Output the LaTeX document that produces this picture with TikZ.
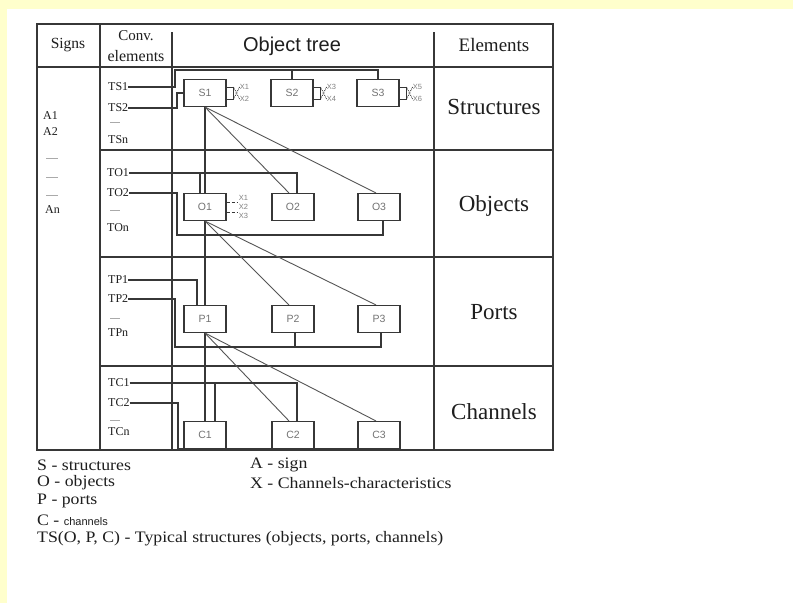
\documentclass[tikz,border=0pt]{standalone}
\usepackage{fontspec}
\setmainfont{Liberation Serif}
\newfontfamily\hsans{Liberation Sans}
\newfontfamily\legendfont[FakeStretch=1.11]{Liberation Serif}
\usetikzlibrary{calc}
\definecolor{pageyellow}{RGB}{255,255,204}
\definecolor{ink}{RGB}{30,30,30}
\definecolor{rule}{RGB}{55,55,55}
\definecolor{wirec}{RGB}{55,55,55}
\definecolor{faint}{RGB}{170,170,170}
\newcommand\fs[1]{\fontsize{#1}{#1}\selectfont}
% small "X" characteristic tags hanging off the right side of a box
\newcommand\xtags[3]{%
  \draw[xw] ($(#1.east)+(0,-6)$) -- ++(7,0) -- ++(0,12) -- ++(-7,0);
  \draw[xw, densely dotted] ($(#1.east)+(7,-6)$) -- ++(6,12);
  \draw[xw, densely dotted] ($(#1.east)+(7,6)$) -- ++(6,-12);
  \node[xl] (#1xa) at ($(#1.east)+(13,-6)$) {#2};
  \node[xl] (#1xb) at ($(#1.east)+(13,6)$) {#3};
}
\begin{document}
\begin{tikzpicture}[x=1pt,y=-1pt,
  frame/.style={draw=rule, line width=2pt},
  rowline/.style={draw=rule, line width=1.4pt},
  colline/.style={draw=rule, line width=1.2pt},
  wire/.style={draw=wirec, line width=1.2pt},
  diag/.style={draw=wirec!85, line width=0.9pt},
  tbox/.style={draw=wirec, fill=white, line width=1.1pt, minimum width=42pt,
    minimum height=27pt, inner sep=0pt, font=\hsans\fs{10.5}, text=black!55},
  tl/.style={font=\fs{12}, text=ink, inner sep=0pt, anchor=west},
  head/.style={text=ink, inner sep=0pt},
  elem/.style={font=\fs{23}, text=ink, inner sep=0pt},
  legend/.style={font=\legendfont\fs{16}, text=ink, inner sep=0pt, anchor=west},
  xl/.style={font=\hsans\fs{7.5}, text=black!50, inner sep=0pt, anchor=west},
  xw/.style={draw=wirec, line width=0.8pt},
  gap/.style={draw=faint, line width=0.8pt},
]
% page
\fill[pageyellow] (0,0) rectangle (793,603);
\fill[white] (7,9) rectangle (793,603);
\useasboundingbox (0,0) rectangle (793,603);

% table grid
\draw[colline] (100,24) -- (100,450);
\draw[colline] (172,32) -- (172,450);
\draw[colline] (434,32) -- (434,450);
\draw[rowline] (100,150) -- (553,150);
\draw[rowline] (100,257) -- (553,257);
\draw[rowline] (100,366) -- (553,366);
\draw[frame] (37,67) -- (553,67);
\draw[frame] (37,24) rectangle (553,450);

% headers
\node[head, font=\fs{15.5}] (hSigns) at (68,45) {Signs};
\node[head, font=\fs{15}] (hConvA) at (136,36) {Conv.};
\node[head, font=\fs{16}] (hConvB) at (136,56) {elements};
\node[head, font=\hsans\fs{20}] (hTree) at (292,46) {Object tree};
\node[head, font=\fs{19}] (hElem) at (494,45) {Elements};

% element names
\node[elem] (eS) at (494,107) {Structures};
\node[elem] (eO) at (494,206) {Objects};
\node[elem] (eP) at (494,312) {Ports};
\node[elem] (eC) at (494,412) {Channels};

% signs
\node[tl] (A1) at (43,116) {A1};
\node[tl] (A2) at (43,132) {A2};
\node[tl] (An) at (45,210) {An};
\draw[gap] (46,158) -- (58,158);
\draw[gap] (46,177) -- (58,177);
\draw[gap] (46,195) -- (58,195);

% conventional elements
\node[tl] (TS1) at (108,87) {TS1};
\node[tl] (TS2) at (108,108) {TS2};
\node[tl] (TSn) at (108,140) {TSn};
\node[tl] (TO1) at (107,173) {TO1};
\node[tl] (TO2) at (107,193) {TO2};
\node[tl] (TOn) at (107,228) {TOn};
\node[tl] (TP1) at (108,280) {TP1};
\node[tl] (TP2) at (108,299) {TP2};
\node[tl] (TPn) at (108,333) {TPn};
\node[tl] (TC1) at (108,383) {TC1};
\node[tl] (TC2) at (108,403) {TC2};
\node[tl] (TCn) at (108,432) {TCn};
\draw[gap] (110,122) -- (120,122);
\draw[gap] (110,210) -- (120,210);
\draw[gap] (110,318) -- (120,318);
\draw[gap] (110,420) -- (120,420);

% box positions (drawn again later, on top of the wires)
\path (205,93) coordinate (pS1) (292,93) coordinate (pS2) (378,93) coordinate (pS3)
      (205,207) coordinate (pO1) (293,207) coordinate (pO2) (379,207) coordinate (pO3)
      (205,319) coordinate (pP1) (293,319) coordinate (pP2) (379,319) coordinate (pP3)
      (205,435) coordinate (pC1) (293,435) coordinate (pC2) (379,435) coordinate (pC3);
\foreach \n in {S1,S2,S3,O1,O2,O3,P1,P2,P3,C1,C2,C3}
  \node[tbox] (\n) at (p\n) {\n};

% tree: trunk and branches
\draw[wire] (S1.south) -- (C1.north);
\draw[diag] (S1.south) -- ($(O2.north)+(-4,0)$);
\draw[diag] (S1.south) -- ($(O3.north)+(-3,0)$);
\draw[diag] (O1.south) -- ($(P2.north)+(-4,0)$);
\draw[diag] (O1.south) -- ($(P3.north)+(-3,0)$);
\draw[diag] (P1.south) -- ($(C2.north)+(-4,0)$);
\draw[diag] (P1.south) -- ($(C3.north)+(-3,0)$);

% structures wiring
\draw[wire] (TS1.east) -- (175,87) -- (175,70) -- (378,70) -- (S3.north);
\draw[wire] (292,70) -- (S2.north);
\draw[wire] (TS2.east) -- (177,108) |- (S1.west);
% objects wiring
\draw[wire] (TO1.east) -- (297,173) -- ($(O2.north)+(4,0)$);
\draw[wire] (200,173) -- ($(O1.north)+(-5,0)$);
\draw[wire] (TO2.east) -- (177,193) -- (177,235) -- (383,235) -- ($(O3.south)+(4,0)$);
% ports wiring
\draw[wire] (TP1.east) -- (197,280) -- ($(P1.north)+(-8,0)$);
\draw[wire] (TP2.east) -- (175,299) -- (175,347) -- (381,347) -- ($(P3.south)+(2,0)$);
\draw[wire] (295,347) -- ($(P2.south)+(2,0)$);
% channels wiring
\draw[wire] (TC1.east) -- (297,383) -- ($(C2.north)+(4,0)$);
\draw[wire] (215,383) -- ($(C1.north)+(10,0)$);
\draw[wire] (TC2.east) -- (178,403) -- (178,449);
\draw[wire, line width=2.6pt] (178,449) -- (400,449);

% boxes on top
\foreach \n in {S1,S2,S3,O1,O2,O3,P1,P2,P3,C1,C2,C3}
  \node[tbox] at (\n) {\n};

% characteristics
\xtags{S1}{X1}{X2}
\xtags{S2}{X3}{X4}
\xtags{S3}{X5}{X6}
\draw[xw, densely dashed] ($(O1.east)+(0,-5)$) -- ++(11,0);
\draw[xw, densely dashed] ($(O1.east)+(0,5)$) -- ++(11,0);
\node[xl] (O1xa) at ($(O1.east)+(12,-9)$) {X1};
\node[xl] (O1xb) at ($(O1.east)+(12,0)$) {X2};
\node[xl] (O1xc) at ($(O1.east)+(12,9)$) {X3};

% legend
\node[legend] (lgS) at (37,465) {S - structures};
\node[legend] (lgO) at (37,483) {O - objects};
\node[legend] (lgP) at (37,501) {P - ports};
\node[legend] (lgC) at (37,520) {C - {\hsans\fs{11}channels}};
\node[legend] (lgTS) at (37,539) {TS(O, P, C) - Typical structures (objects, ports, channels)};
\node[legend] (lgA) at (250,465) {A - sign};
\node[legend] (lgX) at (250,483) {X - Channels-characteristics};
\end{tikzpicture}
\end{document}
